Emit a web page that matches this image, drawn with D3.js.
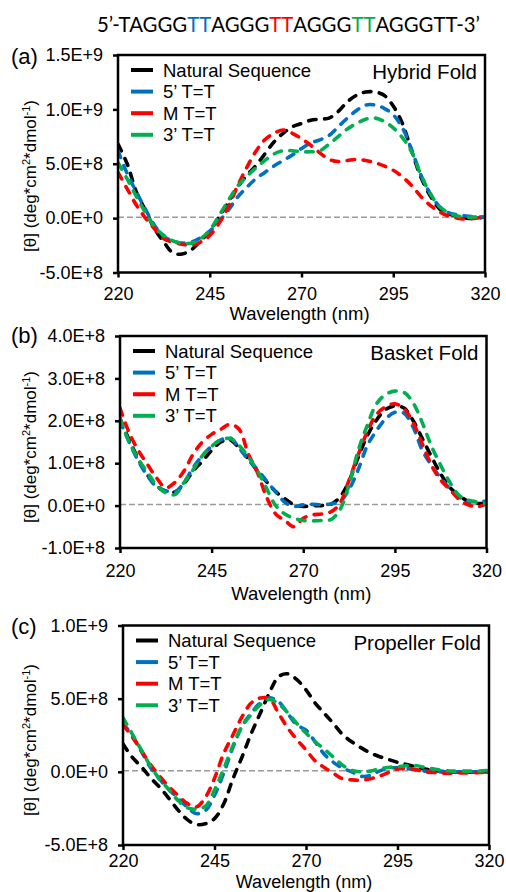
<!DOCTYPE html>
<html>
<head>
<meta charset="utf-8">
<script src="https://cdn.jsdelivr.net/npm/d3@7/dist/d3.min.js"></script>
<style>
  body { margin: 0; background: #fff; }
  text { font-family: "Liberation Sans", Arial, sans-serif; fill: #000; }
</style>
</head>
<body>
<svg id="chart" width="506" height="892"></svg>
<script>
// wavelengths (nm), shared by every series
const wavelengths = [220, 222.5, 225, 227.5, 230, 232.5, 235, 237.5, 240, 242.5, 245, 247.5, 250, 252.5, 255, 257.5, 260, 262.5, 265, 267.5, 270, 272.5, 275, 277.5, 280, 282.5, 285, 287.5, 290, 292.5, 295, 297.5, 300, 302.5, 305, 307.5, 310, 312.5, 315, 317.5, 320];

const seriesNames = ["Natural Sequence", "5\u2019 T=T", "M T=T", "3\u2019 T=T"];
const seriesColors = ["#000000", "#0070C0", "#FF0000", "#00B050"];

// all values in units of 1E+8 deg*cm2*dmol-1
const hybridNatural = [6.8, 5.0, 2.4, 0.7, -1.0, -2.2, -3.2, -3.3, -2.9, -2.1, -1.2, 0.1, 1.4, 2.8, 3.9, 4.8, 5.9, 7.0, 7.8, 8.4, 8.7, 9.0, 9.1, 9.2, 9.8, 10.7, 11.3, 11.6, 11.6, 11.3, 10.3, 8.7, 6.2, 3.8, 2.1, 0.9, 0.4, 0.2, 0.0, 0.0, 0.1];
const hybrid5 = [6.2, 4.1, 2.4, 0.8, -0.7, -1.7, -2.1, -2.3, -2.2, -1.8, -1.2, -0.3, 0.7, 1.9, 2.8, 3.6, 4.2, 4.8, 5.3, 5.8, 6.4, 6.9, 7.2, 7.6, 8.4, 9.2, 9.9, 10.4, 10.4, 10.1, 9.5, 8.3, 6.3, 4.0, 2.3, 1.1, 0.5, 0.3, 0.2, 0.1, 0.1];
const hybridM = [4.2, 2.7, 1.2, 0.0, -1.0, -1.9, -2.2, -2.4, -2.5, -2.2, -1.6, -0.5, 1.0, 2.9, 4.6, 6.1, 7.2, 7.8, 8.1, 7.8, 7.3, 6.7, 6.0, 5.4, 5.2, 5.3, 5.4, 5.3, 5.1, 4.8, 4.4, 3.8, 3.0, 2.0, 1.2, 0.6, 0.2, 0.0, -0.1, 0.0, 0.1];
const hybrid3 = [5.1, 3.6, 2.0, 0.5, -0.8, -1.6, -2.1, -2.3, -2.3, -1.9, -1.1, 0.2, 1.6, 2.9, 3.8, 4.6, 5.3, 5.9, 6.2, 6.2, 6.1, 6.1, 6.2, 6.8, 7.5, 8.2, 8.7, 9.1, 9.2, 8.9, 8.3, 7.4, 6.1, 4.0, 2.3, 1.1, 0.5, 0.2, 0.1, 0.1, 0.1];

const basketNatural = [2.05, 1.55, 1.1, 0.72, 0.47, 0.33, 0.32, 0.52, 0.82, 1.05, 1.3, 1.5, 1.55, 1.36, 1.1, 0.82, 0.56, 0.33, 0.16, 0.02, -0.02, 0.0, 0.0, 0.03, 0.2, 0.58, 1.14, 1.65, 2.02, 2.27, 2.35, 2.3, 2.0, 1.58, 1.15, 0.75, 0.43, 0.24, 0.1, 0.05, 0.05];
const basket5 = [2.0, 1.5, 1.05, 0.7, 0.44, 0.35, 0.32, 0.55, 0.9, 1.18, 1.4, 1.55, 1.6, 1.36, 1.08, 0.85, 0.58, 0.32, 0.08, -0.02, 0.02, 0.03, 0.02, 0.04, 0.1, 0.38, 0.85, 1.42, 1.77, 2.05, 2.2, 2.18, 1.85, 1.3, 0.95, 0.65, 0.4, 0.2, 0.1, 0.1, 0.1];
const basketM = [2.3, 1.72, 1.3, 0.97, 0.65, 0.42, 0.55, 0.82, 1.22, 1.5, 1.68, 1.8, 1.92, 1.8, 1.22, 0.78, 0.2, -0.2, -0.35, -0.5, -0.3, -0.22, -0.2, -0.15, 0.05, 0.6, 1.2, 1.75, 2.15, 2.33, 2.4, 2.28, 1.95, 1.45, 0.95, 0.6, 0.38, 0.15, 0.02, -0.03, 0.05];
const basket3 = [2.05, 1.5, 1.1, 0.78, 0.48, 0.3, 0.26, 0.55, 0.85, 1.18, 1.4, 1.55, 1.58, 1.42, 1.15, 0.82, 0.4, 0.0, -0.2, -0.3, -0.35, -0.36, -0.35, -0.33, -0.1, 0.5, 1.3, 1.9, 2.4, 2.62, 2.7, 2.67, 2.42, 1.95, 1.4, 0.95, 0.55, 0.24, 0.13, 0.08, 0.05];

const propellerNatural = [1.9, 1.0, 0.35, -0.4, -1.05, -1.8, -2.6, -3.25, -3.6, -3.55, -3.2, -2.2, -0.5, 1.0, 2.6, 4.0, 5.4, 6.5, 6.7, 6.3, 5.6, 4.7, 4.0, 3.3, 2.55, 2.05, 1.65, 1.3, 1.05, 0.85, 0.65, 0.5, 0.35, 0.2, 0.1, 0.02, 0.0, -0.02, -0.02, 0.0, 0.0];
const propeller5 = [3.3, 2.5, 1.4, 0.3, -0.5, -1.2, -1.8, -2.4, -2.85, -2.65, -1.6, -0.1, 1.65, 3.1, 4.0, 4.7, 5.05, 4.8, 4.0, 3.2, 2.85, 2.05, 1.2, 0.65, 0.25, 0.0, -0.3, -0.25, 0.05, 0.25, 0.28, 0.23, 0.15, 0.05, 0.0, 0.0, 0.0, 0.0, 0.0, 0.0, 0.0];
const propellerM = [3.2, 2.4, 1.45, 0.5, -0.3, -1.0, -1.6, -2.15, -2.4, -1.75, -0.45, 1.25, 2.5, 3.75, 4.7, 5.05, 5.0, 4.0, 3.0, 2.2, 1.5, 0.75, 0.3, -0.1, -0.48, -0.55, -0.57, -0.48, -0.3, -0.05, 0.2, 0.23, 0.15, 0.0, -0.05, -0.1, -0.1, -0.08, -0.08, -0.05, 0.0];
const propeller3 = [3.7, 2.6, 1.5, 0.4, -0.5, -1.2, -1.95, -2.45, -2.55, -2.35, -1.25, 0.2, 1.75, 3.1, 3.9, 4.6, 4.95, 4.65, 4.05, 3.3, 2.65, 2.05, 1.55, 1.0, 0.45, 0.1, 0.0, 0.05, 0.2, 0.3, 0.35, 0.42, 0.43, 0.3, 0.2, 0.1, 0.05, 0.05, 0.05, 0.05, 0.1];

const xTicks = [220, 245, 270, 295, 320];
const UNIT = 1e8;

// sequence title pieces (TT loops coloured like the series)
const titleParts = ["5\u2019-TAGGG", "TT", "AGGG", "TT", "AGGG", "TT", "AGGGTT-3\u2019"];
const titleColors = ["#000", "#0070C0", "#000", "#FF0000", "#000", "#00B050", "#000"];

const panels = [
  { label: "(a)", fold: "Hybrid Fold", series: [hybridNatural, hybrid5, hybridM, hybrid3],
    yTicks: [-5e8, 0, 5e8, 1e9, 1.5e9],
    box: { left: 118, right: 485, top: 55, bottom: 272.5 }, tickPad: 10, titleDy: 47.5, titleSize: 18.5, yTitleY: 176, letterY: 64 },
  { label: "(b)", fold: "Basket Fold", series: [basketNatural, basket5, basketM, basket3],
    yTicks: [-1e8, 0, 1e8, 2e8, 3e8, 4e8],
    box: { left: 120, right: 486.5, top: 336, bottom: 548 }, tickPad: 11, titleDy: 51.5, titleSize: 18.5, yTitleY: 447, letterY: 343 },
  { label: "(c)", fold: "Propeller Fold", series: [propellerNatural, propeller5, propellerM, propeller3],
    yTicks: [-5e8, 0, 5e8, 1e9],
    box: { left: 123, right: 489, top: 625.5, bottom: 845 }, tickPad: 4, titleDy: 42.5, titleSize: 18, yTitleY: 740, letterY: 634 }
];

const svg = d3.select("#chart");

function sci(v) {
  if (v === 0) return "0.0E+0";
  const e = Math.floor(Math.log10(Math.abs(v)) + 1e-9);
  return (v / Math.pow(10, e)).toFixed(1) + "E+" + e;
}

// title: one text per piece, laid side by side, sized to span x 97..480
const titleEls = titleParts.map((t, k) => svg.append("text")
  .attr("y", 32)
  .style("font-family", "Lato, 'Open Sans', sans-serif")
  .style("font-size", "20px")
  .style("fill", titleColors[k])
  .text(t));
const rawW = d3.sum(titleEls, el => el.node().getComputedTextLength());
const titleSize = 20 * 383 / rawW;
let tx = 97;
titleEls.forEach(el => {
  el.style("font-size", titleSize + "px").attr("x", tx);
  tx += el.node().getComputedTextLength();
});

panels.forEach((p, pi) => {
  const b = p.box;
  const x = d3.scaleLinear().domain([220, 320]).range([b.left, b.right]);
  const y = d3.scaleLinear().domain(d3.extent(p.yTicks)).range([b.bottom, b.top]);
  const g = svg.append("g");

  const clipId = "clip" + pi;
  g.append("clipPath").attr("id", clipId).append("rect")
    .attr("x", b.left).attr("y", b.top).attr("width", b.right - b.left).attr("height", b.bottom - b.top);

  // zero reference line
  g.append("line")
    .attr("x1", b.left).attr("x2", b.right)
    .attr("y1", y(0) - 1).attr("y2", y(0) - 1)
    .attr("stroke", "#9a9a9a").attr("stroke-width", 1.5).attr("stroke-dasharray", "6,3");

  const line = d3.line()
    .x((d, i) => x(wavelengths[i]))
    .y(d => y(d * UNIT))
    .curve(d3.curveCatmullRom.alpha(0.5));

  p.series.forEach((s, si) => {
    g.append("path")
      .attr("d", line(s))
      .attr("clip-path", "url(#" + clipId + ")")
      .attr("fill", "none")
      .attr("stroke", seriesColors[si])
      .attr("stroke-width", 3.6)
      .attr("stroke-linecap", "round")
      .attr("stroke-dasharray", "7.5,8.5");
  });

  // frame
  g.append("rect")
    .attr("x", b.left).attr("y", b.top)
    .attr("width", b.right - b.left).attr("height", b.bottom - b.top)
    .attr("fill", "none").attr("stroke", "#000").attr("stroke-width", 2.5);

  // axes
  const yAxis = g.append("g").attr("transform", `translate(${b.left},0)`)
    .call(d3.axisLeft(y).tickValues(p.yTicks).tickFormat(sci).tickSize(5).tickPadding(10));
  const xAxis = g.append("g").attr("transform", `translate(0,${b.bottom})`)
    .call(d3.axisBottom(x).tickValues(xTicks).tickFormat(d3.format("d")).tickSize(5).tickPadding(p.tickPad));
  [yAxis, xAxis].forEach(a => {
    a.select(".domain").remove();
    a.selectAll("line").attr("stroke", "#000").attr("stroke-width", 2.5);
    a.selectAll("text").style("font-size", "18px").style("font-family", "'Liberation Sans', Arial, sans-serif");
  });

  // axis titles
  g.append("text")
    .attr("x", (b.left + b.right) / 2 - 2).attr("y", b.bottom + p.titleDy)
    .attr("text-anchor", "middle").style("font-size", p.titleSize + "px")
    .text("Wavelength (nm)");

  const yt = g.append("text")
    .attr("transform", `translate(36,${p.yTitleY}) rotate(-90)`)
    .attr("text-anchor", "middle").style("font-size", "17px");
  yt.append("tspan").text("[\u03B8] (deg*cm");
  yt.append("tspan").text("2").attr("dy", -6).style("font-size", "11px");
  yt.append("tspan").text("*dmol").attr("dy", 6);
  yt.append("tspan").text("-1").attr("dy", -6).style("font-size", "11px");
  yt.append("tspan").text(")").attr("dy", 6);

  // panel letter
  g.append("text").attr("x", 11).attr("y", p.letterY).style("font-size", "22px").text(p.label);

  // fold name
  g.append("text").attr("x", b.right - 8).attr("y", b.top + 24)
    .attr("text-anchor", "end").style("font-size", "20.5px").text(p.fold);

  // legend
  seriesNames.forEach((name, si) => {
    const ly = b.top + 15 + si * 21.6;
    g.append("line")
      .attr("x1", b.left + 13).attr("x2", b.left + 35)
      .attr("y1", ly).attr("y2", ly)
      .attr("stroke", seriesColors[si]).attr("stroke-width", 4);
    g.append("text")
      .attr("x", b.left + 45).attr("y", ly + 6.5)
      .style("font-size", "18.5px")
      .text(name);
  });
});
</script>
</body>
</html>
